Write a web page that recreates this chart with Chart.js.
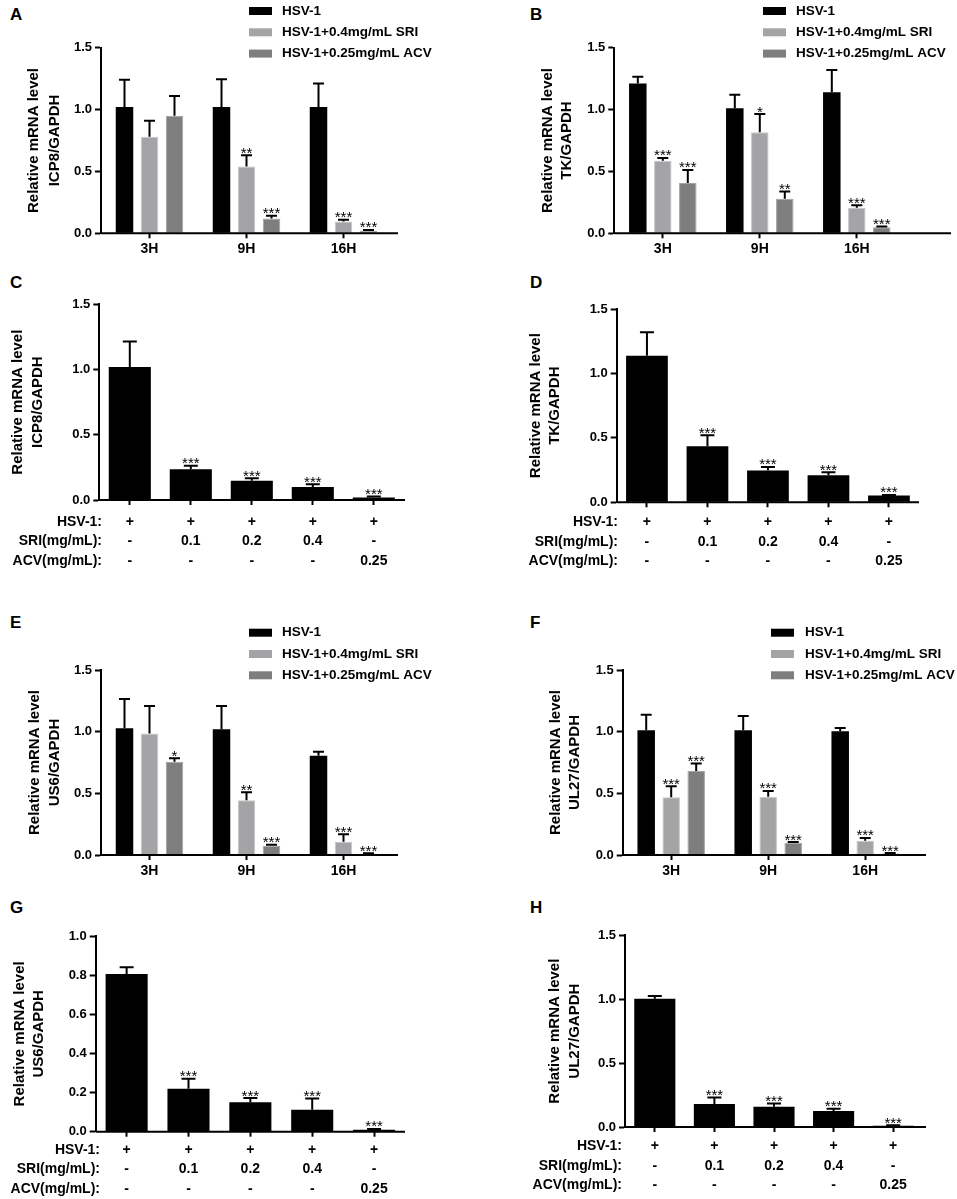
<!DOCTYPE html>
<html>
<head>
<meta charset="utf-8">
<script src="https://cdn.jsdelivr.net/npm/chart.js@4.4.1/dist/chart.umd.min.js"></script>
<style>
  body { margin: 0; background: #fff; }
  #fig { position: relative; width: 957px; height: 1199px; overflow: hidden; font-family: "Liberation Sans", Arial, sans-serif; }
  #fig canvas { position: absolute; }
  .tag { position: absolute; font-weight: bold; font-size: 17px; line-height: 18px; color: #000; }
</style>
</head>
<body>
<div id="fig">
  <div class="tag" style="left:10px;top:6px">A</div>
  <div class="tag" style="left:530px;top:6px">B</div>
  <div class="tag" style="left:10px;top:274px">C</div>
  <div class="tag" style="left:530px;top:274px">D</div>
  <div class="tag" style="left:10px;top:614px">E</div>
  <div class="tag" style="left:530px;top:614px">F</div>
  <div class="tag" style="left:10px;top:899px">G</div>
  <div class="tag" style="left:530px;top:899px">H</div>
</div>
<script>
const FONT = '"Liberation Sans", Arial, sans-serif';

// time course panels (A, B, E, F)
const timeLabels = ['3H', '9H', '16H'];
const seriesNames = ['HSV-1', 'HSV-1+0.4mg/mL SRI', 'HSV-1+0.25mg/mL ACV'];

// A - ICP8
const aHsv = [1.02, 1.02, 1.02];
const aHsvErr = [0.22, 0.225, 0.19];
const aSri = [0.78, 0.54, 0.095];
const aSriErr = [0.13, 0.09, 0.015];
const aSriStars = ['', '**', '***'];
const aAcv = [0.95, 0.12, 0.02];
const aAcvErr = [0.16, 0.022, 0.007];
const aAcvStars = ['', '***', '***'];

// B - TK
const bHsv = [1.21, 1.01, 1.14];
const bHsvErr = [0.055, 0.11, 0.18];
const bSri = [0.587, 0.816, 0.207];
const bSriErr = [0.022, 0.148, 0.02];
const bSriStars = ['***', '*', '***'];
const bAcv = [0.407, 0.28, 0.048];
const bAcvErr = [0.105, 0.057, 0.006];
const bAcvStars = ['***', '**', '***'];

// E - US6
const eHsv = [1.027, 1.019, 0.805];
const eHsvErr = [0.238, 0.19, 0.033];
const eSri = [0.986, 0.443, 0.108];
const eSriErr = [0.222, 0.065, 0.06];
const eSriStars = ['', '**', '***'];
const eAcv = [0.757, 0.076, 0.01];
const eAcvErr = [0.027, 0.008, 0.005];
const eAcvStars = ['*', '***', '***'];

// F - UL27
const fHsv = [1.011, 1.011, 1.003];
const fHsvErr = [0.127, 0.116, 0.027];
const fSri = [0.468, 0.473, 0.116];
const fSriErr = [0.089, 0.046, 0.022];
const fSriStars = ['***', '***', '***'];
const fAcv = [0.681, 0.1, 0.012];
const fAcvErr = [0.06, 0.005, 0.004];
const fAcvStars = ['***', '***', '***'];

// dose panels (C, D, G, H)
const doseRows = ['HSV-1:', 'SRI(mg/mL):', 'ACV(mg/mL):'];
const doseHsv = ['+', '+', '+', '+', '+'];
const doseSri = ['-', '0.1', '0.2', '0.4', '-'];
const doseAcv = ['-', '-', '-', '-', '0.25'];
const doseStars = ['', '***', '***', '***', '***'];

const cVals = [1.02, 0.235, 0.148, 0.10, 0.02];
const cErr = [0.194, 0.028, 0.018, 0.02, 0.006];
const dVals = [1.138, 0.434, 0.246, 0.209, 0.052];
const dErr = [0.181, 0.086, 0.028, 0.024, 0.005];
const gVals = [0.806, 0.22, 0.15, 0.112, 0.01];
const gErr = [0.034, 0.051, 0.022, 0.058, 0.004];
const hVals = [1.004, 0.18, 0.159, 0.125, 0.01];
const hErr = [0.021, 0.05, 0.024, 0.018, 0.003];

const fills = ['#000000', '#a4a4a6', '#7e7e7e'];
const edges = ['#000000', '#c6c6c8', '#a2a2a2'];

function timeSets(vals, errs, stars) {
  return vals.map((v, i) => ({
    label: seriesNames[i],
    data: v,
    errors: errs[i],
    stars: stars[i],
    backgroundColor: fills[i],
    borderColor: edges[i],
    borderWidth: i === 0 ? 0 : 1,
    categoryPercentage: 0.773,
    barPercentage: 0.7
  }));
}

function doseSet(vals, errs, pct) {
  return [{
    label: 'dose',
    data: vals,
    errors: errs,
    stars: doseStars,
    backgroundColor: '#000000',
    borderWidth: 0,
    categoryPercentage: pct,
    barPercentage: 1
  }];
}

const doseLabels = doseHsv.map((h, i) => [h, doseSri[i], doseAcv[i]]);

// draws error bars, significance stars, legend, extended x axis and the condition row names
const extrasPlugin = {
  id: 'panelExtras',
  afterDatasetsDraw(chart, args, opts) {
    const ctx = chart.ctx;
    const ys = chart.scales.y, xs = chart.scales.x;
    const area = chart.chartArea;
    ctx.save();
    ctx.strokeStyle = '#000';
    ctx.fillStyle = '#000';
    ctx.lineWidth = 2;
    ctx.beginPath();
    ctx.moveTo(area.left, area.bottom);
    ctx.lineTo(opts.axisEnd, area.bottom);
    ctx.stroke();

    ctx.font = '15px ' + FONT;
    ctx.textAlign = 'center';
    ctx.textBaseline = 'alphabetic';
    chart.data.datasets.forEach((ds, i) => {
      chart.getDatasetMeta(i).data.forEach((bar, j) => {
        const yt = ys.getPixelForValue(ds.data[j] + ds.errors[j]);
        ctx.beginPath();
        ctx.moveTo(bar.x, bar.y);
        ctx.lineTo(bar.x, yt);
        ctx.moveTo(bar.x - opts.cap / 2, yt);
        ctx.lineTo(bar.x + opts.cap / 2, yt);
        ctx.stroke();
        if (ds.stars && ds.stars[j]) ctx.fillText(ds.stars[j], bar.x, yt + 2.5);
      });
    });

    if (opts.legend) {
      const lg = opts.legend;
      ctx.font = 'bold 13.5px ' + FONT;
      ctx.textAlign = 'left';
      ctx.textBaseline = 'middle';
      chart.data.datasets.forEach((ds, i) => {
        const cy = lg.y + i * lg.rowH;
        ctx.fillStyle = ds.backgroundColor;
        ctx.fillRect(lg.boxX, cy - 4, 23, 8);
        ctx.fillStyle = '#000';
        ctx.fillText(ds.label, lg.textX, cy);
      });
    }

    if (opts.rows) {
      ctx.font = 'bold 14px ' + FONT;
      ctx.textAlign = 'right';
      ctx.textBaseline = 'middle';
      opts.rows.forEach((r, i) => {
        ctx.fillText(r, opts.rowRight, xs.top + opts.rowOffset + i * opts.rowH);
      });
    }
    ctx.restore();
  }
};

function makeChart(p) {
  const [bl, bt, bw, bh] = p.box;
  const cv = document.createElement('canvas');
  cv.width = bw;
  cv.height = bh;
  cv.style.left = bl + 'px';
  cv.style.top = bt + 'px';
  document.getElementById('fig').appendChild(cv);

  const yW = p.x0 - bl;
  const padRight = bw - (yW + p.areaW);
  const padTop = p.yTop - bt;
  const xH = bh - (p.y0 - bt);
  const dose = !!p.rows;
  const xFont = dose ? { family: FONT, size: 14, weight: 'bold', lineHeight: '19.5px' }
                     : { family: FONT, size: 14, weight: 'bold', lineHeight: '15.6px' };

  const extras = {
    axisEnd: p.axisEnd - bl,
    cap: p.cap,
    legend: p.legend ? { boxX: p.legend.boxX - bl, textX: p.legend.textX - bl, y: p.legend.y - bt, rowH: 21.3 } : null,
    rows: p.rows || null,
    rowRight: p.rowRight ? p.rowRight - bl : 0,
    rowOffset: dose ? 5 + p.xPad + 9.75 : 0,
    rowH: 19.5
  };

  new Chart(cv, {
    type: 'bar',
    data: { labels: p.labels, datasets: p.datasets },
    options: {
      responsive: false,
      animation: false,
      devicePixelRatio: 1,
      layout: { padding: { left: 0, top: padTop, right: padRight, bottom: 0 } },
      plugins: {
        legend: { display: false },
        tooltip: { enabled: false },
        panelExtras: extras
      },
      scales: {
        x: {
          afterFit: s => { s.height = xH; },
          border: { display: false },
          grid: { display: true, drawOnChartArea: false, offset: false, tickLength: 5, tickWidth: 2, tickColor: '#000' },
          ticks: { color: '#000', font: xFont, padding: p.xPad, autoSkip: false, maxRotation: 0 }
        },
        y: {
          min: 0,
          max: p.yMax,
          afterFit: s => { s.width = yW; },
          border: { display: true, color: '#000', width: 2 },
          grid: { display: true, drawOnChartArea: false, tickLength: 6, tickWidth: 2, tickColor: '#000' },
          ticks: {
            stepSize: p.yStep,
            color: '#000',
            padding: 3,
            font: { family: FONT, size: 13, weight: 'bold' },
            callback: v => Number(v).toFixed(1)
          },
          title: {
            display: true,
            text: p.yTitle,
            color: '#000',
            font: { family: FONT, size: 15, weight: 'bold', lineHeight: p.titleLH / 15 },
            padding: { top: p.titleX - bl - p.titleLH / 2, bottom: 0 }
          }
        }
      }
    },
    plugins: [extrasPlugin]
  });
}

const panels = [
  { // A
    box: [0, 0, 478, 262], x0: 101, areaW: 291, yTop: 47.7, y0: 233.3, axisEnd: 398,
    yMax: 1.5, yStep: 0.5, xPad: 3, cap: 11, titleX: 34, titleLH: 21,
    yTitle: ['Relative mRNA level', 'ICP8/GAPDH'], labels: timeLabels,
    legend: { boxX: 249, textX: 282, y: 11 },
    datasets: timeSets([aHsv, aSri, aAcv], [aHsvErr, aSriErr, aAcvErr], [[], aSriStars, aAcvStars])
  },
  { // B
    box: [480, 0, 477, 262], x0: 614.3, areaW: 291, yTop: 47.7, y0: 233.3, axisEnd: 951,
    yMax: 1.5, yStep: 0.5, xPad: 3, cap: 11, titleX: 548, titleLH: 19,
    yTitle: ['Relative mRNA level', 'TK/GAPDH'], labels: timeLabels,
    legend: { boxX: 763, textX: 796, y: 11 },
    datasets: timeSets([bHsv, bSri, bAcv], [bHsvErr, bSriErr, bAcvErr], [[], bSriStars, bAcvStars])
  },
  { // C
    box: [0, 262, 478, 318], x0: 99.3, areaW: 305, yTop: 304.3, y0: 500, axisEnd: 405,
    yMax: 1.5, yStep: 0.5, xPad: 7, cap: 14, titleX: 18.3, titleLH: 20,
    yTitle: ['Relative mRNA level', 'ICP8/GAPDH'], labels: doseLabels,
    rows: doseRows, rowRight: 102,
    datasets: doseSet(cVals, cErr, 0.69)
  },
  { // D
    box: [480, 262, 477, 318], x0: 616.7, areaW: 302.5, yTop: 309, y0: 502.3, axisEnd: 919,
    yMax: 1.5, yStep: 0.5, xPad: 5.5, cap: 14, titleX: 535.7, titleLH: 19.5,
    yTitle: ['Relative mRNA level', 'TK/GAPDH'], labels: doseLabels,
    rows: doseRows, rowRight: 618,
    datasets: doseSet(dVals, dErr, 0.69)
  },
  { // E
    box: [0, 580, 478, 305], x0: 101, areaW: 291, yTop: 670, y0: 855, axisEnd: 398,
    yMax: 1.5, yStep: 0.5, xPad: 3, cap: 11, titleX: 35, titleLH: 20,
    yTitle: ['Relative mRNA level', 'US6/GAPDH'], labels: timeLabels,
    legend: { boxX: 249, textX: 282, y: 632.7 },
    datasets: timeSets([eHsv, eSri, eAcv], [eHsvErr, eSriErr, eAcvErr], [[], eSriStars, eAcvStars])
  },
  { // F
    box: [480, 580, 477, 305], x0: 622.7, areaW: 291, yTop: 670, y0: 855, axisEnd: 926,
    yMax: 1.5, yStep: 0.5, xPad: 3, cap: 11, titleX: 555.7, titleLH: 19.5,
    yTitle: ['Relative mRNA level', 'UL27/GAPDH'], labels: timeLabels,
    legend: { boxX: 771, textX: 805, y: 632.7 },
    datasets: timeSets([fHsv, fSri, fAcv], [fHsvErr, fSriErr, fAcvErr], [[], fSriStars, fAcvStars])
  },
  { // G
    box: [0, 885, 478, 314], x0: 95.7, areaW: 309.3, yTop: 936, y0: 1131.7, axisEnd: 405,
    yMax: 1.0, yStep: 0.2, xPad: 3.5, cap: 14, titleX: 20, titleLH: 18.5,
    yTitle: ['Relative mRNA level', 'US6/GAPDH'], labels: doseLabels,
    rows: doseRows, rowRight: 100,
    datasets: doseSet(gVals, gErr, 0.68)
  },
  { // H
    box: [480, 885, 477, 314], x0: 625, areaW: 298, yTop: 935.3, y0: 1127, axisEnd: 926,
    yMax: 1.5, yStep: 0.5, xPad: 4.5, cap: 14, titleX: 555, titleLH: 20,
    yTitle: ['Relative mRNA level', 'UL27/GAPDH'], labels: doseLabels,
    rows: doseRows, rowRight: 622,
    datasets: doseSet(hVals, hErr, 0.69)
  }
];

panels.forEach(makeChart);
</script>
</body>
</html>
